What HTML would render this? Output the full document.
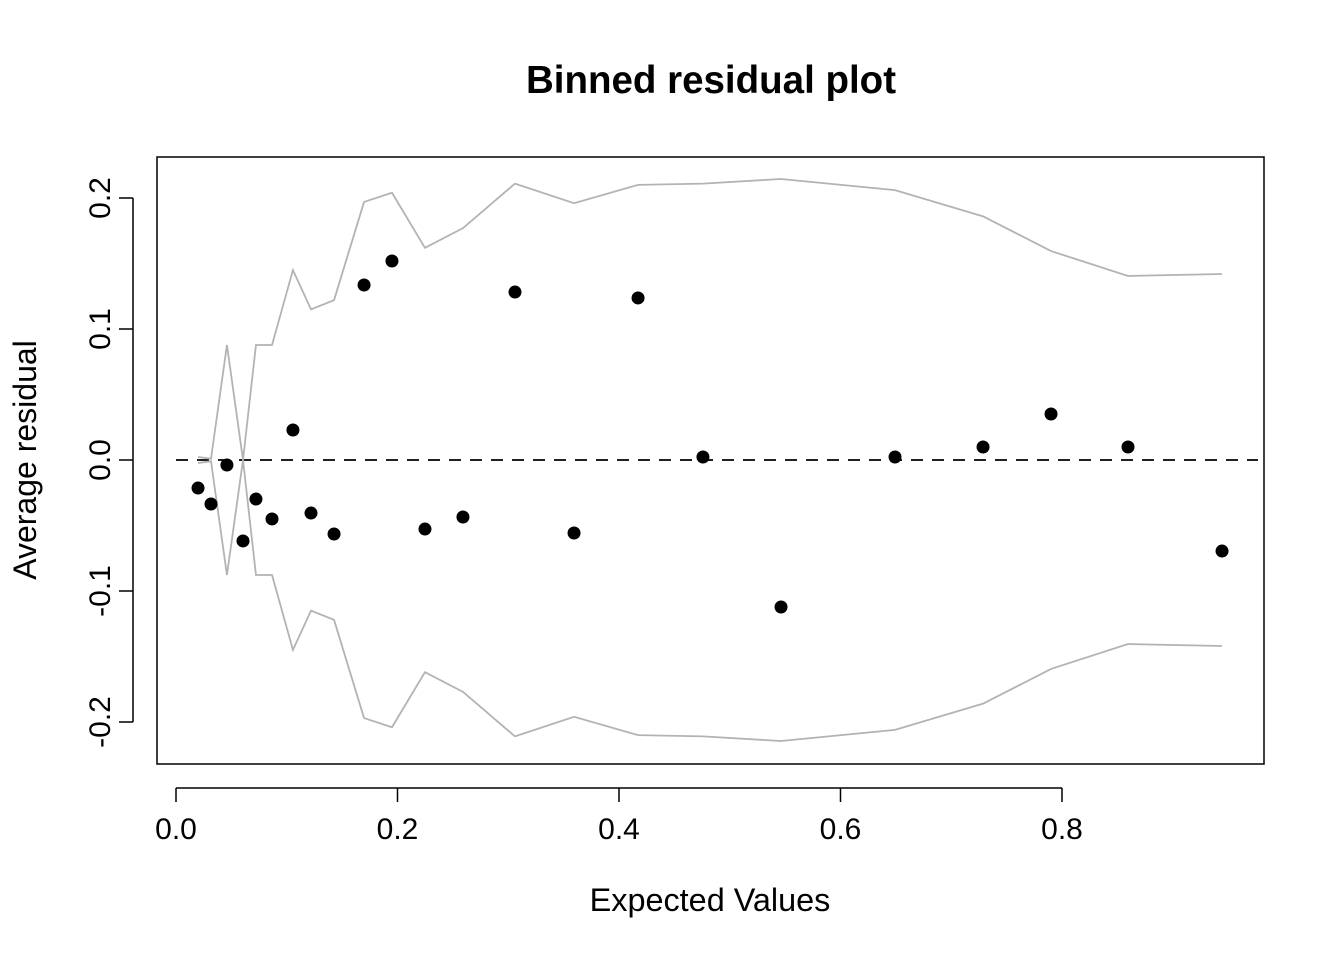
<!DOCTYPE html>
<html><head><meta charset="utf-8"><style>
body{margin:0;background:#fff}
text{font-family:"Liberation Sans",Arial,sans-serif}
</style></head><body>
<svg id="chart" width="1344" height="960" xmlns="http://www.w3.org/2000/svg">
<rect width="1344" height="960" fill="#fff"/>
<text x="711" y="93" font-size="38.5" font-weight="bold" text-anchor="middle">Binned residual plot</text>
<rect x="157" y="157" width="1107" height="607" fill="none" stroke="#000" stroke-width="1.5"/>
<text x="710" y="911" font-size="32.4" text-anchor="middle">Expected Values</text>
<text transform="translate(36,460) rotate(-90)" font-size="32" text-anchor="middle">Average residual</text>
<g id="g"></g>
</svg>
<script>
const xVals=[0.0199,0.0316,0.046,0.0605,0.0722,0.0867,0.1056,0.1219,0.1427,0.1698,0.195,0.2248,0.2591,0.3061,0.3594,0.4172,0.4758,0.5463,0.6492,0.7287,0.7901,0.8596,0.9445];
const yVals=[-0.0214,-0.0336,-0.0038,-0.0618,-0.0298,-0.045,0.0229,-0.0405,-0.0565,0.1336,0.1519,-0.0527,-0.0435,0.1282,-0.0557,0.1237,0.0023,-0.1122,0.0023,0.0099,0.0351,0.0099,-0.0695];
const bounds=[0.0023,0.001,0.0878,0.0,0.0878,0.0878,0.145,0.115,0.122,0.197,0.204,0.162,0.177,0.211,0.196,0.210,0.211,0.2145,0.206,0.186,0.1595,0.1405,0.142];
const xTicks=[0,0.2,0.4,0.6,0.8];
const xTickLabels=["0.0","0.2","0.4","0.6","0.8"];
const yTicks=[-0.2,-0.1,0,0.1,0.2];
const yTickLabels=["-0.2","-0.1","0.0","0.1","0.2"];
const NS="http://www.w3.org/2000/svg";
const g=document.getElementById('g');
const X=v=>176+v*1107.5, Y=v=>460-v*1310;
function mk(t,a){const e=document.createElementNS(NS,t);for(const k in a)e.setAttribute(k,a[k]);g.appendChild(e);return e;}
let ax=mk('line',{x1:X(0),x2:X(0.8),y1:788,y2:788,stroke:'#000','stroke-width':1.5});


xTicks.forEach((v,i)=>{
 const t=mk('line',{x1:X(v),x2:X(v),y1:788,y2:802,stroke:'#000','stroke-width':1.5});
 
 
 const l=mk('text',{x:X(v),y:839,'font-size':30,'text-anchor':'middle'});l.textContent=xTickLabels[i];
 
 
});
let ay=mk('line',{x1:133,x2:133,y1:Y(-0.2),y2:Y(0.2),stroke:'#000','stroke-width':1.5});


yTicks.forEach((v,i)=>{
 const t=mk('line',{x1:119,x2:133,y1:Y(v),y2:Y(v),stroke:'#000','stroke-width':1.5});
 
 
 const l=mk('text',{transform:`translate(110,${Y(v)}) rotate(-90)`,'font-size':30,'text-anchor':'middle'});l.textContent=yTickLabels[i];
 
 
});
let z=mk('line',{x1:176,x2:1258,y1:Y(0),y2:Y(0),stroke:'#000','stroke-width':1.8,'stroke-dasharray':'12,9'});


const up=mk('polyline',{points:xVals.map((x,i)=>X(x)+','+Y(bounds[i])).join(' '),fill:'none',stroke:'#b3b3b3','stroke-width':1.8});


const lo=mk('polyline',{points:xVals.map((x,i)=>X(x)+','+Y(-bounds[i])).join(' '),fill:'none',stroke:'#b3b3b3','stroke-width':1.8});


xVals.forEach((x,i)=>{
 const c=mk('circle',{cx:X(x),cy:Y(yVals[i]),r:6.5,fill:'#000'});
 
 
});
</script>
</body></html>
